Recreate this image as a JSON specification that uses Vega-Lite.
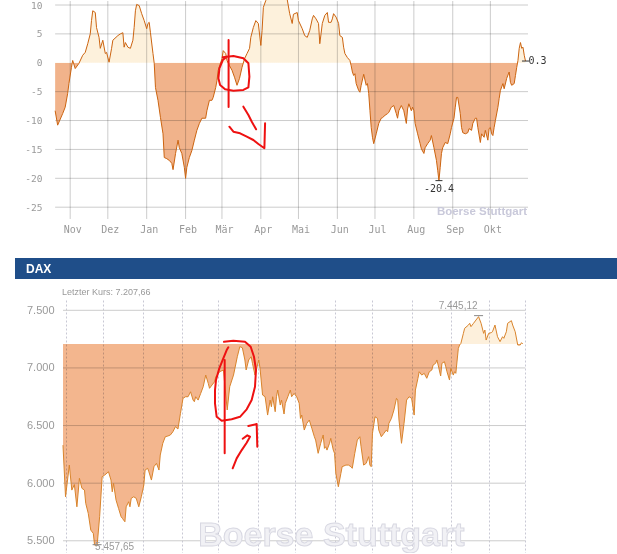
{
  "$schema": "https://vega.github.io/schema/vega-lite/v6.json",
  "background": "#ffffff",
  "padding": {"left": 15, "top": 0, "right": 0, "bottom": 0},
  "autosize": {"type": "pad"},
  "bounds": "flush",
  "spacing": 21,
  "config": {"view": {"stroke": null}, "axis": {"labelOverlap": false, "labelFlush": false}},
  "datasets": {
    "sent": [
      {"date":"2011-10-20","value":-8.3},{"date":"2011-10-22","value":-10.8},{"date":"2011-10-26","value":-8.8},{"date":"2011-10-28","value":-7.7},{"date":"2011-10-30","value":-5.3},{"date":"2011-10-31","value":-3.6},
      {"date":"2011-11-02","value":-0.8},{"date":"2011-11-03","value":0.4},{"date":"2011-11-05","value":-1.0},{"date":"2011-11-08","value":-0.1},{"date":"2011-11-11","value":1.3},{"date":"2011-11-13","value":1.8},{"date":"2011-11-15","value":3.3},{"date":"2011-11-17","value":5.0},{"date":"2011-11-18","value":7.3},{"date":"2011-11-19","value":9.0},{"date":"2011-11-21","value":8.7},{"date":"2011-11-22","value":6.1},{"date":"2011-11-24","value":4.4},{"date":"2011-11-25","value":2.5},{"date":"2011-11-27","value":3.9},{"date":"2011-11-29","value":1.6},{"date":"2011-11-30","value":1.8},
      {"date":"2011-12-02","value":0.1},{"date":"2011-12-04","value":2.5},{"date":"2011-12-05","value":3.9},{"date":"2011-12-09","value":4.7},{"date":"2011-12-11","value":5.0},{"date":"2011-12-13","value":5.2},{"date":"2011-12-14","value":2.7},{"date":"2011-12-15","value":3.5},{"date":"2011-12-17","value":2.7},{"date":"2011-12-19","value":2.5},{"date":"2011-12-21","value":3.9},{"date":"2011-12-22","value":6.1},{"date":"2011-12-23","value":9.0},{"date":"2011-12-24","value":10.1},{"date":"2011-12-26","value":9.9},{"date":"2011-12-28","value":8.5},{"date":"2011-12-30","value":7.3},
      {"date":"2012-01-01","value":5.9},{"date":"2012-01-02","value":6.8},{"date":"2012-01-03","value":7.0},{"date":"2012-01-04","value":5.2},{"date":"2012-01-06","value":1.6},{"date":"2012-01-07","value":-0.1},{"date":"2012-01-08","value":-4.3},{"date":"2012-01-10","value":-6.5},{"date":"2012-01-12","value":-9.5},{"date":"2012-01-14","value":-12.3},{"date":"2012-01-15","value":-16.4},{"date":"2012-01-17","value":-16.6},{"date":"2012-01-19","value":-16.9},{"date":"2012-01-21","value":-17.4},{"date":"2012-01-22","value":-18.5},{"date":"2012-01-24","value":-15.7},{"date":"2012-01-26","value":-13.4},{"date":"2012-01-27","value":-14.7},{"date":"2012-01-29","value":-15.7},{"date":"2012-01-31","value":-18.1},
      {"date":"2012-02-01","value":-20.0},{"date":"2012-02-02","value":-18.1},{"date":"2012-02-04","value":-16.4},{"date":"2012-02-06","value":-15.2},{"date":"2012-02-08","value":-13.4},{"date":"2012-02-10","value":-11.7},{"date":"2012-02-12","value":-10.5},{"date":"2012-02-14","value":-9.6},{"date":"2012-02-17","value":-9.6},{"date":"2012-02-18","value":-8.3},{"date":"2012-02-20","value":-6.5},{"date":"2012-02-22","value":-6.5},{"date":"2012-02-23","value":-6.0},{"date":"2012-02-25","value":-4.3},{"date":"2012-02-26","value":-3.1},{"date":"2012-02-27","value":-1.3},
      {"date":"2012-03-01","value":0.7},{"date":"2012-03-02","value":2.1},{"date":"2012-03-04","value":1.6},{"date":"2012-03-05","value":0.4},{"date":"2012-03-07","value":-0.5},{"date":"2012-03-09","value":-1.3},{"date":"2012-03-11","value":-2.5},{"date":"2012-03-13","value":-3.9},{"date":"2012-03-15","value":-2.7},{"date":"2012-03-17","value":-0.8},{"date":"2012-03-19","value":0.7},{"date":"2012-03-21","value":1.6},{"date":"2012-03-23","value":2.5},{"date":"2012-03-24","value":4.4},{"date":"2012-03-26","value":6.1},{"date":"2012-03-28","value":7.3},{"date":"2012-03-30","value":6.8},
      {"date":"2012-04-01","value":3.0},{"date":"2012-04-02","value":5.6},{"date":"2012-04-03","value":9.6},{"date":"2012-04-05","value":10.8},{"date":"2012-04-08","value":12.5},{"date":"2012-04-13","value":13.0},{"date":"2012-04-18","value":12.5},{"date":"2012-04-22","value":11.0},{"date":"2012-04-24","value":8.5},{"date":"2012-04-26","value":6.8},{"date":"2012-04-27","value":8.4},{"date":"2012-04-30","value":8.7},
      {"date":"2012-05-01","value":7.3},{"date":"2012-05-04","value":5.9},{"date":"2012-05-06","value":4.7},{"date":"2012-05-08","value":4.4},{"date":"2012-05-10","value":5.6},{"date":"2012-05-12","value":7.6},{"date":"2012-05-13","value":8.2},{"date":"2012-05-15","value":7.6},{"date":"2012-05-17","value":6.8},{"date":"2012-05-18","value":3.3},{"date":"2012-05-19","value":5.0},{"date":"2012-05-20","value":6.8},{"date":"2012-05-22","value":8.2},{"date":"2012-05-24","value":8.7},{"date":"2012-05-25","value":7.0},{"date":"2012-05-27","value":7.0},{"date":"2012-05-28","value":7.6},{"date":"2012-05-29","value":8.5},{"date":"2012-05-31","value":7.9},
      {"date":"2012-06-02","value":6.8},{"date":"2012-06-03","value":4.7},{"date":"2012-06-05","value":4.4},{"date":"2012-06-06","value":2.7},{"date":"2012-06-07","value":1.6},{"date":"2012-06-09","value":0.9},{"date":"2012-06-11","value":0.4},{"date":"2012-06-12","value":-0.5},{"date":"2012-06-13","value":-1.6},{"date":"2012-06-14","value":-2.2},{"date":"2012-06-15","value":-1.9},{"date":"2012-06-16","value":-3.6},{"date":"2012-06-18","value":-4.8},{"date":"2012-06-19","value":-5.1},{"date":"2012-06-20","value":-3.9},{"date":"2012-06-22","value":-2.0},{"date":"2012-06-24","value":-3.9},{"date":"2012-06-25","value":-3.6},{"date":"2012-06-26","value":-5.3},{"date":"2012-06-27","value":-8.3},{"date":"2012-06-28","value":-11.2},{"date":"2012-06-29","value":-12.9},{"date":"2012-06-30","value":-14.0},
      {"date":"2012-07-02","value":-12.3},{"date":"2012-07-04","value":-10.5},{"date":"2012-07-06","value":-9.6},{"date":"2012-07-07","value":-9.5},{"date":"2012-07-09","value":-9.1},{"date":"2012-07-11","value":-8.8},{"date":"2012-07-12","value":-8.6},{"date":"2012-07-14","value":-7.7},{"date":"2012-07-16","value":-7.4},{"date":"2012-07-18","value":-8.8},{"date":"2012-07-19","value":-9.6},{"date":"2012-07-20","value":-8.3},{"date":"2012-07-22","value":-7.4},{"date":"2012-07-24","value":-8.3},{"date":"2012-07-26","value":-10.5},{"date":"2012-07-27","value":-8.0},{"date":"2012-07-28","value":-7.1},{"date":"2012-07-30","value":-8.3},{"date":"2012-07-31","value":-7.7},
      {"date":"2012-08-01","value":-8.3},{"date":"2012-08-02","value":-10.5},{"date":"2012-08-04","value":-12.3},{"date":"2012-08-06","value":-14.0},{"date":"2012-08-07","value":-14.9},{"date":"2012-08-09","value":-15.7},{"date":"2012-08-10","value":-14.7},{"date":"2012-08-12","value":-14.0},{"date":"2012-08-14","value":-13.4},{"date":"2012-08-15","value":-12.6},{"date":"2012-08-17","value":-14.7},{"date":"2012-08-19","value":-16.9},{"date":"2012-08-20","value":-18.6},{"date":"2012-08-21","value":-20.4},{"date":"2012-08-22","value":-18.1},{"date":"2012-08-23","value":-15.7},{"date":"2012-08-24","value":-14.7},{"date":"2012-08-26","value":-13.8},{"date":"2012-08-28","value":-14.0},{"date":"2012-08-30","value":-12.3},{"date":"2012-08-31","value":-11.2},
      {"date":"2012-09-02","value":-9.6},{"date":"2012-09-03","value":-7.7},{"date":"2012-09-04","value":-6.0},{"date":"2012-09-05","value":-6.0},{"date":"2012-09-07","value":-8.8},{"date":"2012-09-08","value":-11.2},{"date":"2012-09-09","value":-12.1},{"date":"2012-09-11","value":-12.3},{"date":"2012-09-13","value":-12.1},{"date":"2012-09-14","value":-11.4},{"date":"2012-09-16","value":-11.7},{"date":"2012-09-17","value":-10.5},{"date":"2012-09-19","value":-9.6},{"date":"2012-09-20","value":-9.6},{"date":"2012-09-21","value":-11.2},{"date":"2012-09-23","value":-13.8},{"date":"2012-09-24","value":-12.3},{"date":"2012-09-26","value":-12.9},{"date":"2012-09-27","value":-11.7},{"date":"2012-09-29","value":-13.4},{"date":"2012-09-30","value":-11.4},
      {"date":"2012-10-01","value":-11.2},{"date":"2012-10-02","value":-12.3},{"date":"2012-10-03","value":-12.6},{"date":"2012-10-04","value":-11.2},{"date":"2012-10-05","value":-10.0},{"date":"2012-10-07","value":-7.7},{"date":"2012-10-08","value":-6.2},{"date":"2012-10-09","value":-4.8},{"date":"2012-10-11","value":-3.6},{"date":"2012-10-12","value":-4.5},{"date":"2012-10-14","value":-2.7},{"date":"2012-10-16","value":-1.6},{"date":"2012-10-17","value":-3.4},{"date":"2012-10-18","value":-3.9},{"date":"2012-10-20","value":-3.6},{"date":"2012-10-21","value":-2.2},{"date":"2012-10-22","value":-0.8},{"date":"2012-10-23","value":0.4},{"date":"2012-10-24","value":2.5},{"date":"2012-10-25","value":3.5},{"date":"2012-10-26","value":2.5},{"date":"2012-10-27","value":2.7},{"date":"2012-10-28","value":1.3},{"date":"2012-10-29","value":0.3}
    ],
    "dax": [
      {"date":"2011-10-30","value":6330},{"date":"2011-11-01","value":5882},{"date":"2011-11-04","value":6157},{"date":"2011-11-06","value":5940},{"date":"2011-11-08","value":5988},{"date":"2011-11-10","value":5795},{"date":"2011-11-12","value":6042},{"date":"2011-11-14","value":5955},{"date":"2011-11-16","value":5940},{"date":"2011-11-17","value":5825},{"date":"2011-11-19","value":5738},{"date":"2011-11-21","value":5593},{"date":"2011-11-23","value":5564},{"date":"2011-11-24","value":5463},{"date":"2011-11-26","value":5457.65},{"date":"2011-11-28","value":5709},{"date":"2011-11-30","value":6056},
      {"date":"2011-12-02","value":6070},{"date":"2011-12-05","value":6099},{"date":"2011-12-07","value":6027},{"date":"2011-12-08","value":5925},{"date":"2011-12-09","value":5998},{"date":"2011-12-11","value":5853},{"date":"2011-12-13","value":5781},{"date":"2011-12-15","value":5709},{"date":"2011-12-16","value":5695},{"date":"2011-12-18","value":5665},{"date":"2011-12-19","value":5795},{"date":"2011-12-21","value":5839},{"date":"2011-12-22","value":5795},{"date":"2011-12-23","value":5868},{"date":"2011-12-25","value":5882},{"date":"2011-12-27","value":5868},{"date":"2011-12-29","value":5795},{"date":"2011-12-31","value":5882},
      {"date":"2012-01-02","value":5984},{"date":"2012-01-03","value":6114},{"date":"2012-01-05","value":6129},{"date":"2012-01-06","value":6099},{"date":"2012-01-08","value":6027},{"date":"2012-01-10","value":6143},{"date":"2012-01-12","value":6172},{"date":"2012-01-14","value":6114},{"date":"2012-01-15","value":6244},{"date":"2012-01-17","value":6346},{"date":"2012-01-19","value":6403},{"date":"2012-01-21","value":6409},{"date":"2012-01-23","value":6418},{"date":"2012-01-25","value":6446},{"date":"2012-01-27","value":6490},{"date":"2012-01-29","value":6470},{"date":"2012-01-31","value":6606},
      {"date":"2012-02-02","value":6736},{"date":"2012-02-04","value":6750},{"date":"2012-02-06","value":6750},{"date":"2012-02-08","value":6793},{"date":"2012-02-10","value":6721},{"date":"2012-02-11","value":6707},{"date":"2012-02-12","value":6750},{"date":"2012-02-14","value":6721},{"date":"2012-02-16","value":6779},{"date":"2012-02-18","value":6837},{"date":"2012-02-20","value":6938},{"date":"2012-02-22","value":6866},{"date":"2012-02-23","value":6823},{"date":"2012-02-25","value":6852},{"date":"2012-02-27","value":6880},{"date":"2012-02-28","value":6924},{"date":"2012-02-29","value":6938},
      {"date":"2012-03-02","value":6967},{"date":"2012-03-05","value":6982},{"date":"2012-03-08","value":6635},{"date":"2012-03-10","value":6837},{"date":"2012-03-13","value":6938},{"date":"2012-03-16","value":7097},{"date":"2012-03-18","value":7185},{"date":"2012-03-20","value":7175},{"date":"2012-03-22","value":7069},{"date":"2012-03-23","value":6982},{"date":"2012-03-25","value":7069},{"date":"2012-03-27","value":7097},{"date":"2012-03-28","value":7040},{"date":"2012-03-30","value":6938},
      {"date":"2012-04-02","value":7069},{"date":"2012-04-03","value":6996},{"date":"2012-04-05","value":6765},{"date":"2012-04-07","value":6750},{"date":"2012-04-09","value":6591},{"date":"2012-04-11","value":6721},{"date":"2012-04-12","value":6663},{"date":"2012-04-13","value":6750},{"date":"2012-04-15","value":6620},{"date":"2012-04-16","value":6750},{"date":"2012-04-17","value":6808},{"date":"2012-04-19","value":6678},{"date":"2012-04-20","value":6721},{"date":"2012-04-22","value":6600},{"date":"2012-04-23","value":6693},{"date":"2012-04-25","value":6750},{"date":"2012-04-27","value":6808},{"date":"2012-04-28","value":6750},{"date":"2012-04-30","value":6779},
      {"date":"2012-05-02","value":6750},{"date":"2012-05-04","value":6693},{"date":"2012-05-05","value":6562},{"date":"2012-05-06","value":6591},{"date":"2012-05-08","value":6461},{"date":"2012-05-10","value":6519},{"date":"2012-05-12","value":6548},{"date":"2012-05-14","value":6476},{"date":"2012-05-16","value":6403},{"date":"2012-05-17","value":6374},{"date":"2012-05-19","value":6259},{"date":"2012-05-21","value":6346},{"date":"2012-05-23","value":6418},{"date":"2012-05-24","value":6302},{"date":"2012-05-25","value":6316},{"date":"2012-05-26","value":6287},{"date":"2012-05-28","value":6346},{"date":"2012-05-29","value":6389},{"date":"2012-05-31","value":6287},
      {"date":"2012-06-01","value":6259},{"date":"2012-06-02","value":6085},{"date":"2012-06-04","value":5969},{"date":"2012-06-06","value":6085},{"date":"2012-06-07","value":6143},{"date":"2012-06-10","value":6157},{"date":"2012-06-12","value":6157},{"date":"2012-06-14","value":6143},{"date":"2012-06-15","value":6129},{"date":"2012-06-17","value":6259},{"date":"2012-06-19","value":6374},{"date":"2012-06-21","value":6403},{"date":"2012-06-22","value":6316},{"date":"2012-06-24","value":6157},{"date":"2012-06-26","value":6172},{"date":"2012-06-28","value":6230},{"date":"2012-06-29","value":6157},{"date":"2012-06-30","value":6143},
      {"date":"2012-07-01","value":6432},{"date":"2012-07-02","value":6504},{"date":"2012-07-03","value":6576},{"date":"2012-07-05","value":6562},{"date":"2012-07-06","value":6461},{"date":"2012-07-08","value":6403},{"date":"2012-07-10","value":6432},{"date":"2012-07-12","value":6461},{"date":"2012-07-13","value":6446},{"date":"2012-07-14","value":6519},{"date":"2012-07-16","value":6562},{"date":"2012-07-18","value":6635},{"date":"2012-07-20","value":6736},{"date":"2012-07-21","value":6721},{"date":"2012-07-22","value":6548},{"date":"2012-07-24","value":6346},{"date":"2012-07-26","value":6519},{"date":"2012-07-28","value":6721},{"date":"2012-07-30","value":6750},
      {"date":"2012-08-01","value":6736},{"date":"2012-08-03","value":6591},{"date":"2012-08-04","value":6808},{"date":"2012-08-06","value":6910},{"date":"2012-08-07","value":6967},{"date":"2012-08-09","value":6938},{"date":"2012-08-11","value":6953},{"date":"2012-08-13","value":6910},{"date":"2012-08-15","value":6967},{"date":"2012-08-17","value":6982},{"date":"2012-08-18","value":7025},{"date":"2012-08-20","value":7040},{"date":"2012-08-21","value":7069},{"date":"2012-08-22","value":7025},{"date":"2012-08-24","value":6930},{"date":"2012-08-25","value":7040},{"date":"2012-08-27","value":7054},{"date":"2012-08-28","value":7011},{"date":"2012-08-29","value":6967},{"date":"2012-08-31","value":6895},
      {"date":"2012-09-01","value":6996},{"date":"2012-09-03","value":6938},{"date":"2012-09-04","value":6967},{"date":"2012-09-05","value":6953},{"date":"2012-09-07","value":7170},{"date":"2012-09-08","value":7199},{"date":"2012-09-09","value":7213},{"date":"2012-09-11","value":7300},{"date":"2012-09-12","value":7344},{"date":"2012-09-15","value":7372},{"date":"2012-09-16","value":7387},{"date":"2012-09-17","value":7358},{"date":"2012-09-19","value":7387},{"date":"2012-09-21","value":7416},{"date":"2012-09-23","value":7445.12},{"date":"2012-09-24","value":7416},{"date":"2012-09-25","value":7387},{"date":"2012-09-27","value":7300},{"date":"2012-09-28","value":7329},{"date":"2012-09-29","value":7242},
      {"date":"2012-10-01","value":7300},{"date":"2012-10-03","value":7306},{"date":"2012-10-04","value":7314},{"date":"2012-10-06","value":7372},{"date":"2012-10-08","value":7271},{"date":"2012-10-10","value":7228},{"date":"2012-10-12","value":7271},{"date":"2012-10-13","value":7257},{"date":"2012-10-15","value":7314},{"date":"2012-10-16","value":7387},{"date":"2012-10-19","value":7410},{"date":"2012-10-20","value":7372},{"date":"2012-10-22","value":7314},{"date":"2012-10-24","value":7199},{"date":"2012-10-26","value":7199},{"date":"2012-10-27","value":7219},{"date":"2012-10-28","value":7207.66}
    ],
    "ann_top": [
      {"g":"v","i":0,"date":"2012-03-06T07:00:00Z","value":3.94},{"g":"v","i":1,"date":"2012-03-06T07:00:00Z","value":-7.66},
      {"g":"o","i":0,"date":"2012-03-01T16:00:00Z","value":0.95},{"g":"o","i":1,"date":"2012-03-10T03:00:00Z","value":1.17},{"g":"o","i":2,"date":"2012-03-18T02:00:00Z","value":0.77},{"g":"o","i":3,"date":"2012-03-22T02:00:00Z","value":-0.09},{"g":"o","i":4,"date":"2012-03-22T21:00:00Z","value":-2.41},{"g":"o","i":5,"date":"2012-03-22T02:00:00Z","value":-4.25},{"g":"o","i":6,"date":"2012-03-18T02:00:00Z","value":-4.71},{"g":"o","i":7,"date":"2012-03-10T03:00:00Z","value":-4.83},{"g":"o","i":8,"date":"2012-03-03T12:00:00Z","value":-4.59},{"g":"o","i":9,"date":"2012-02-28T12:00:00Z","value":-3.85},{"g":"o","i":10,"date":"2012-02-27T04:00:00Z","value":-2.69},{"g":"o","i":11,"date":"2012-02-27T23:00:00Z","value":-0.96},{"g":"o","i":12,"date":"2012-03-01T16:00:00Z","value":0.48},{"g":"o","i":13,"date":"2012-03-04T21:00:00Z","value":1.05},
      {"g":"a","i":0,"date":"2012-03-18T02:00:00Z","value":-7.6},{"g":"a","i":1,"date":"2012-03-22T02:00:00Z","value":-9.04},{"g":"a","i":2,"date":"2012-03-24T19:00:00Z","value":-10.2},{"g":"a","i":3,"date":"2012-03-28T05:00:00Z","value":-11.52},
      {"g":"b","i":0,"date":"2012-03-06T22:00:00Z","value":-11.07},{"g":"b","i":1,"date":"2012-03-10T03:00:00Z","value":-11.93},{"g":"b","i":2,"date":"2012-03-15T11:00:00Z","value":-12.21},{"g":"b","i":3,"date":"2012-03-20T19:00:00Z","value":-12.8},{"g":"b","i":4,"date":"2012-03-26T01:00:00Z","value":-13.37},{"g":"b","i":5,"date":"2012-03-30T01:00:00Z","value":-14.06},{"g":"b","i":6,"date":"2012-04-03T20:00:00Z","value":-14.8},{"g":"b","i":7,"date":"2012-04-04T09:00:00Z","value":-10.48}
    ],
    "ann_bot": [
      {"g":"v","i":0,"date":"2012-03-06T00:00:00Z","value":7068},{"g":"v","i":1,"date":"2012-03-06T00:00:00Z","value":6259},
      {"g":"o","i":0,"date":"2012-03-05T11:00:00Z","value":7227},{"g":"o","i":1,"date":"2012-03-12T20:00:00Z","value":7236},{"g":"o","i":2,"date":"2012-03-22T02:00:00Z","value":7227},{"g":"o","i":3,"date":"2012-03-26T14:00:00Z","value":7184},{"g":"o","i":4,"date":"2012-03-29T05:00:00Z","value":7097},{"g":"o","i":5,"date":"2012-03-30T19:00:00Z","value":6982},{"g":"o","i":6,"date":"2012-03-30T00:00:00Z","value":6837},{"g":"o","i":7,"date":"2012-03-27T09:00:00Z","value":6721},{"g":"o","i":8,"date":"2012-03-23T10:00:00Z","value":6641},{"g":"o","i":9,"date":"2012-03-18T03:00:00Z","value":6576},{"g":"o","i":10,"date":"2012-03-11T13:00:00Z","value":6554},{"g":"o","i":11,"date":"2012-03-03T15:00:00Z","value":6542},{"g":"o","i":12,"date":"2012-02-28T16:00:00Z","value":6576},{"g":"o","i":13,"date":"2012-02-27T08:00:00Z","value":6693},{"g":"o","i":14,"date":"2012-02-27T08:00:00Z","value":6808},{"g":"o","i":15,"date":"2012-02-28T03:00:00Z","value":6895},{"g":"o","i":16,"date":"2012-03-01T18:00:00Z","value":6996},{"g":"o","i":17,"date":"2012-03-04T22:00:00Z","value":7083},{"g":"o","i":18,"date":"2012-03-07T14:00:00Z","value":7155},{"g":"o","i":19,"date":"2012-03-08T21:00:00Z","value":7179},
      {"g":"a","i":0,"date":"2012-03-12T08:00:00Z","value":6129},{"g":"a","i":1,"date":"2012-03-15T12:00:00Z","value":6215},{"g":"a","i":2,"date":"2012-03-19T12:00:00Z","value":6287},{"g":"a","i":3,"date":"2012-03-23T10:00:00Z","value":6351},{"g":"a","i":4,"date":"2012-03-26T01:00:00Z","value":6403},{"g":"a","i":5,"date":"2012-03-23T22:00:00Z","value":6415},{"g":"a","i":6,"date":"2012-03-20T06:00:00Z","value":6386},
      {"g":"b","i":0,"date":"2012-03-24T17:00:00Z","value":6496},{"g":"b","i":1,"date":"2012-03-31T08:00:00Z","value":6513},{"g":"b","i":2,"date":"2012-03-31T20:00:00Z","value":6316}
    ]
  },
  "vconcat": [
    {
      "width": 513,
      "height": 237,
      "layer": [
        {
          "data": {"name": "sent"},
          "mark": {
            "type": "area", "clip": true, "blend": "multiply",
            "color": {"gradient": "linear", "x1": 0, "y1": 0, "x2": 0, "y2": 1,
              "stops": [{"offset": 0, "color": "#fdf1dc"}, {"offset": 0.3892, "color": "#fdf1dc"}, {"offset": 0.3892, "color": "#f1b38b"}, {"offset": 1, "color": "#f1b38b"}]}
          },
          "encoding": {
            "x": {"field": "date", "type": "temporal",
              "scale": {"type": "utc", "nice": false, "domain": [{"year": 2011, "month": 9, "date": 18, "utc": true}, {"year": 2012, "month": 10, "date": 31, "utc": true}]},
              "axis": {"orient": "bottom", "offset": -18, "title": null, "grid": false, "ticks": false, "tickSize": 0, "domain": false, "tickCount": 30,
                "values": [{"year":2011,"month":11,"date":1,"utc":true},{"year":2011,"month":12,"date":1,"utc":true},{"year":2012,"month":1,"date":1,"utc":true},{"year":2012,"month":2,"date":1,"utc":true},{"year":2012,"month":3,"date":1,"utc":true},{"year":2012,"month":4,"date":1,"utc":true},{"year":2012,"month":5,"date":1,"utc":true},{"year":2012,"month":6,"date":1,"utc":true},{"year":2012,"month":7,"date":1,"utc":true},{"year":2012,"month":8,"date":1,"utc":true},{"year":2012,"month":9,"date":1,"utc":true},{"year":2012,"month":10,"date":1,"utc":true}],
                "labelExpr": "['Jan','Feb','Mär','Apr','Mai','Jun','Jul','Aug','Sep','Okt','Nov','Dez'][utcmonth(datum.value)]",
                "labelPadding": 5, "labelOffset": 2, "labelFont": "DejaVu Sans Mono", "labelFontSize": 10, "labelColor": "#999999", "labelFlush": false, "labelOverlap": false}},
            "y": {"field": "value", "type": "quantitative",
              "scale": {"domain": [-30.16, 10.866], "nice": false, "zero": false},
              "axis": {"orient": "left", "offset": -40, "title": null, "grid": false, "ticks": false, "tickSize": 0, "domain": false, "tickCount": 30,
                "values": [-25, -20, -15, -10, -5, 0, 5, 10], "labelExpr": "'' + datum.value", "labelOverlap": false, "labelFlush": false,
                "labelPadding": 13, "labelFont": "DejaVu Sans Mono", "labelFontSize": 9.5, "labelColor": "#999999"}},
            "y2": {"datum": 0}
          }
        },
        {
          "data": {"values": [{"m":"2011-11-01"},{"m":"2011-12-01"},{"m":"2012-01-01"},{"m":"2012-02-01"},{"m":"2012-03-01"},{"m":"2012-04-01"},{"m":"2012-05-01"},{"m":"2012-06-01"},{"m":"2012-07-01"},{"m":"2012-08-01"},{"m":"2012-09-01"},{"m":"2012-10-01"}]},
          "mark": {"type": "rule", "color": "#cccccc", "strokeWidth": 1, "blend": "multiply"},
          "encoding": {
            "x": {"field": "m", "type": "temporal"},
            "y": {"datum": -27.04, "type": "quantitative"},
            "y2": {"datum": 10.69}
          }
        },
        {
          "data": {"values": [{"v":-25},{"v":-20},{"v":-15},{"v":-10},{"v":-5},{"v":5},{"v":10}]},
          "mark": {"type": "rule", "color": "#cccccc", "strokeWidth": 1, "blend": "multiply"},
          "encoding": {
            "y": {"field": "v", "type": "quantitative"},
            "x": {"datum": {"year": 2011, "month": 10, "date": 20, "utc": true}, "type": "temporal"},
            "x2": {"datum": {"year": 2012, "month": 10, "date": 31, "utc": true}}
          }
        },
        {
          "data": {"name": "sent"},
          "mark": {"type": "line", "clip": true, "color": "#cc6410", "strokeWidth": 1},
          "encoding": {
            "x": {"field": "date", "type": "temporal"},
            "y": {"field": "value", "type": "quantitative"}
          }
        },
        {
          "mark": {"type": "rule", "color": "#333333", "strokeWidth": 1},
          "encoding": {
            "y": {"datum": 0, "type": "quantitative"},
            "x": {"datum": {"year": 2011, "month": 10, "date": 20, "utc": true}, "type": "temporal"},
            "x2": {"datum": {"year": 2012, "month": 10, "date": 31, "utc": true}}
          }
        },
        {
          "mark": {"type": "rule", "color": "#999999", "strokeWidth": 1},
          "encoding": {
            "y": {"datum": -27.04, "type": "quantitative"},
            "x": {"datum": {"year": 2011, "month": 10, "date": 20, "utc": true}, "type": "temporal"},
            "x2": {"datum": {"year": 2012, "month": 10, "date": 31, "utc": true}}
          }
        },
        {
          "mark": {"type": "rule", "color": "#999999", "strokeWidth": 1},
          "encoding": {
            "x": {"datum": {"year": 2011, "month": 10, "date": 20, "utc": true}, "type": "temporal"},
            "y": {"datum": -27.04, "type": "quantitative"},
            "y2": {"datum": 10.69}
          }
        },
        {
          "data": {"values": [{"date": "2012-08-21", "value": -20.4}, {"date": "2012-10-29", "value": 0.3}]},
          "mark": {"type": "point", "shape": "M-1,0L1,0", "filled": false, "color": "#333333", "size": 49, "strokeWidth": 1, "opacity": 1},
          "encoding": {
            "x": {"field": "date", "type": "temporal"},
            "y": {"field": "value", "type": "quantitative"}
          }
        },
        {
          "data": {"values": [{"date": "2012-08-21", "value": -20.4, "label": "-20.4"}]},
          "mark": {"type": "text", "font": "DejaVu Sans Mono", "fontSize": 10, "color": "#333333", "align": "center", "baseline": "top", "dy": 3},
          "encoding": {
            "x": {"field": "date", "type": "temporal"},
            "y": {"field": "value", "type": "quantitative"},
            "text": {"field": "label"}
          }
        },
        {
          "data": {"values": [{"date": "2012-10-29", "value": 0.3, "label": "0.3"}]},
          "mark": {"type": "text", "font": "DejaVu Sans Mono", "fontSize": 10, "color": "#333333", "align": "left", "baseline": "middle", "dx": 3},
          "encoding": {
            "x": {"field": "date", "type": "temporal"},
            "y": {"field": "value", "type": "quantitative"},
            "text": {"field": "label"}
          }
        },
        {
          "data": {"values": [{"date": "2012-10-31", "value": -25.83, "label": "Boerse Stuttgart"}]},
          "mark": {"type": "text", "font": "Liberation Sans", "fontWeight": "bold", "fontSize": 11.5, "color": "#c9c9da", "align": "right", "baseline": "middle", "dx": -1},
          "encoding": {
            "x": {"field": "date", "type": "temporal"},
            "y": {"field": "value", "type": "quantitative"},
            "text": {"field": "label"}
          }
        },
        {
          "data": {"name": "ann_top"},
          "mark": {"type": "line", "color": "#ee1111", "strokeWidth": 2, "strokeCap": "round", "strokeJoin": "round"},
          "encoding": {
            "x": {"field": "date", "type": "temporal"},
            "y": {"field": "value", "type": "quantitative"},
            "detail": {"field": "g"},
            "order": {"field": "i", "type": "quantitative"}
          }
        }
      ]
    },
    {
      "width": 602,
      "height": 21,
      "view": {"fill": "#1f4e89", "stroke": null},
      "title": {"text": "DAX", "anchor": "start", "frame": "group", "dx": 11, "dy": 12, "offset": -10.5, "baseline": "middle", "font": "Liberation Sans", "fontSize": 12, "fontWeight": "bold", "color": "#ffffff"},
      "data": {"values": []},
      "mark": "point"
    },
    {
      "width": 602,
      "height": 253,
      "title": {"text": "Letzter Kurs: 7.207,66", "anchor": "start", "frame": "group", "dx": 47, "dy": 9, "offset": 3, "baseline": "bottom", "font": "Liberation Sans", "fontSize": 9, "fontWeight": "normal", "color": "#999999"},
      "layer": [
        {
          "data": {"values": [{"v": 5500}, {"v": 6000}, {"v": 6500}, {"v": 7000}, {"v": 7500}]},
          "mark": {"type": "rule", "color": "#cccccc", "strokeWidth": 1},
          "encoding": {
            "y": {"field": "v", "type": "quantitative"},
            "x": {"datum": {"year": 2011, "month": 10, "date": 30, "utc": true}, "type": "temporal"},
            "x2": {"datum": {"year": 2012, "month": 10, "date": 30, "utc": true}}
          }
        },
        {
          "data": {"values": [{"date": "2012-02-14", "value": 5395, "label": "Boerse Stuttgart"}]},
          "mark": {"type": "text", "clip": true, "font": "Liberation Sans", "fontWeight": "bold", "fontSize": 34, "fill": "#f1f1f5", "stroke": "#d8d8e2", "strokeWidth": 1, "align": "left", "baseline": "bottom"},
          "encoding": {
            "x": {"field": "date", "type": "temporal"},
            "y": {"field": "value", "type": "quantitative"},
            "text": {"field": "label"}
          }
        },
        {
          "data": {"name": "dax"},
          "mark": {
            "type": "area", "blend": "multiply",
            "color": {"gradient": "linear", "x1": 0, "y1": 0, "x2": 0, "y2": 1,
              "stops": [{"offset": 0, "color": "#fdf0dc"}, {"offset": 0.1195, "color": "#fdf0dc"}, {"offset": 0.1195, "color": "#f3b68e"}, {"offset": 1, "color": "#f3b68e"}]}
          },
          "encoding": {
            "x": {"field": "date", "type": "temporal",
              "scale": {"type": "utc", "nice": false, "domain": [{"year": 2011, "month": 9, "date": 22, "utc": true}, {"year": 2013, "month": 1, "date": 10, "hours": 14, "minutes": 24, "utc": true}]},
              "axis": {"orient": "bottom", "title": null, "labels": false, "ticks": false, "tickSize": 0, "domain": false, "grid": true, "gridColor": "#c8c8d4", "gridDash": [2, 2], "tickCount": 30,
                "values": [{"year":2011,"month":11,"date":1,"utc":true},{"year":2011,"month":12,"date":1,"utc":true},{"year":2012,"month":1,"date":1,"utc":true},{"year":2012,"month":2,"date":1,"utc":true},{"year":2012,"month":3,"date":1,"utc":true},{"year":2012,"month":4,"date":1,"utc":true},{"year":2012,"month":5,"date":1,"utc":true},{"year":2012,"month":6,"date":1,"utc":true},{"year":2012,"month":7,"date":1,"utc":true},{"year":2012,"month":8,"date":1,"utc":true},{"year":2012,"month":9,"date":1,"utc":true},{"year":2012,"month":10,"date":1,"utc":true},{"year":2012,"month":10,"date":30,"utc":true}]}},
            "y": {"field": "value", "type": "quantitative",
              "scale": {"domain": [5394.1, 7589.4], "nice": false, "zero": false},
              "axis": {"orient": "left", "offset": -40, "title": null, "grid": false, "ticks": false, "tickSize": 0, "domain": false, "tickCount": 30,
                "values": [5500, 6000, 6500, 7000, 7500], "labelExpr": "replace(format(datum.value, ','), ',', '.')", "labelOverlap": false, "labelFlush": false,
                "labelPadding": 1, "labelFont": "Liberation Sans", "labelFontSize": 11, "labelColor": "#999999"}},
            "y2": {"datum": 7207.66}
          }
        },
        {
          "data": {"name": "dax"},
          "mark": {"type": "line", "color": "#d9842c", "strokeWidth": 1},
          "encoding": {
            "x": {"field": "date", "type": "temporal"},
            "y": {"field": "value", "type": "quantitative"}
          }
        },
        {
          "data": {"values": [{"date": "2012-09-23", "value": 7445.12}, {"date": "2011-11-26", "value": 5457.65}]},
          "mark": {"type": "point", "shape": "M-1,0L1,0", "filled": false, "color": "#888888", "size": 81, "strokeWidth": 1, "opacity": 1, "yOffset": -1},
          "encoding": {
            "x": {"field": "date", "type": "temporal"},
            "y": {"field": "value", "type": "quantitative"}
          }
        },
        {
          "data": {"values": [{"date": "2012-09-23", "value": 7445.12, "label": "7.445,12"}]},
          "mark": {"type": "text", "font": "Liberation Sans", "fontSize": 10, "color": "#999999", "align": "right", "baseline": "middle", "dx": -1, "dy": -11},
          "encoding": {
            "x": {"field": "date", "type": "temporal"},
            "y": {"field": "value", "type": "quantitative"},
            "text": {"field": "label"}
          }
        },
        {
          "data": {"values": [{"date": "2011-11-26", "value": 5457.65, "label": "5.457,65"}]},
          "mark": {"type": "text", "font": "Liberation Sans", "fontSize": 10, "color": "#999999", "align": "left", "baseline": "bottom", "dx": -2, "dy": 6},
          "encoding": {
            "x": {"field": "date", "type": "temporal"},
            "y": {"field": "value", "type": "quantitative"},
            "text": {"field": "label"}
          }
        },
        {
          "data": {"name": "ann_bot"},
          "mark": {"type": "line", "color": "#ee1111", "strokeWidth": 2, "strokeCap": "round", "strokeJoin": "round"},
          "encoding": {
            "x": {"field": "date", "type": "temporal"},
            "y": {"field": "value", "type": "quantitative"},
            "detail": {"field": "g"},
            "order": {"field": "i", "type": "quantitative"}
          }
        }
      ]
    }
  ]
}
